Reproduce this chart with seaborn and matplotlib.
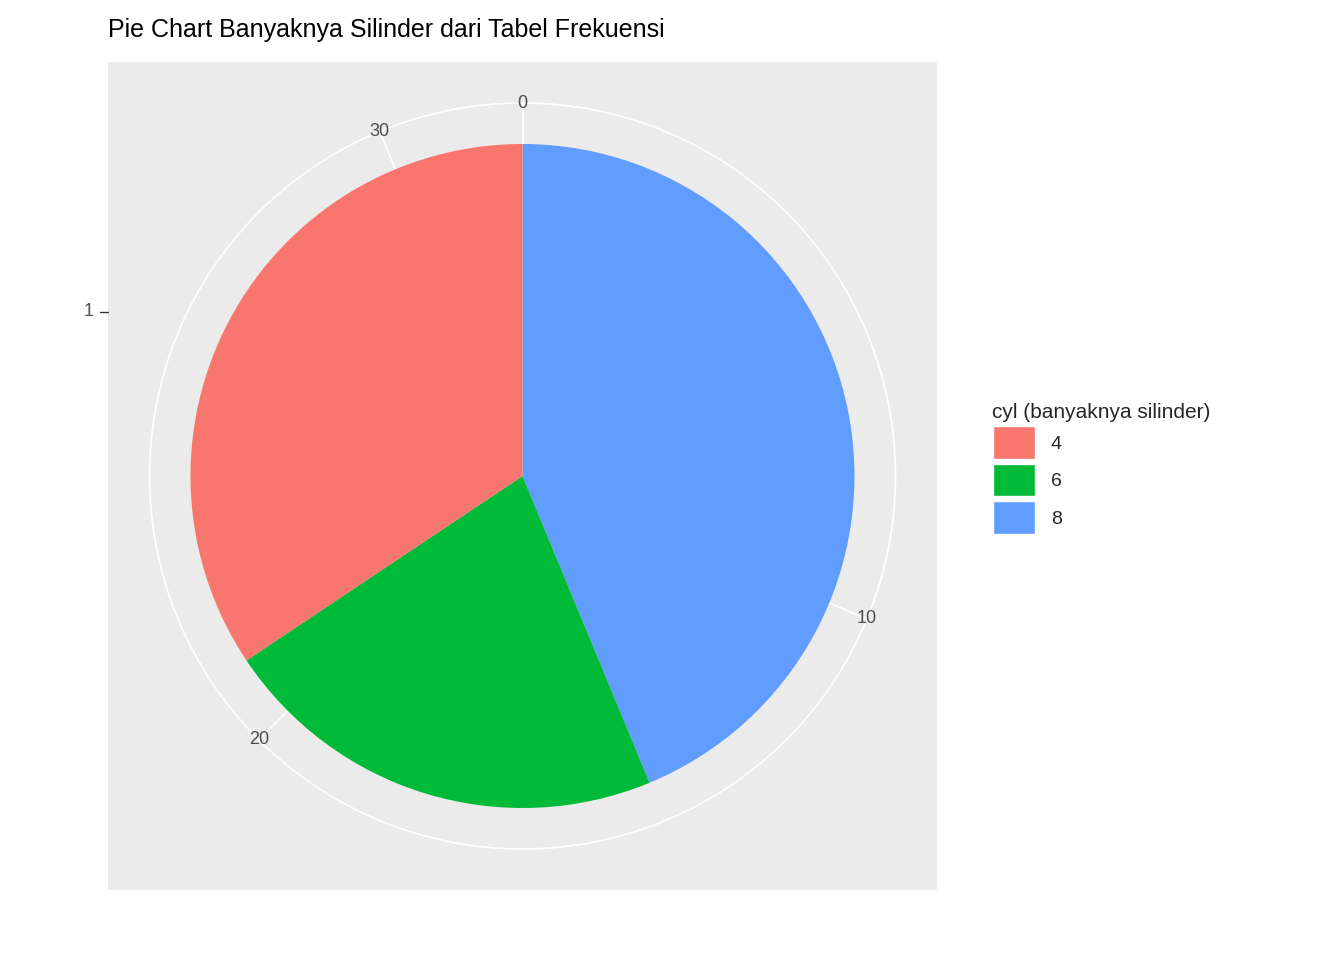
import numpy as np
import matplotlib
matplotlib.use("Agg")
import matplotlib.pyplot as plt
import seaborn as sns
from matplotlib.patches import Patch, Circle

sns.set_theme(style="white")
plt.rcParams['font.family'] = ['Liberation Sans', 'DejaVu Sans']

# data (mtcars cyl frequency table)
cyl_labels = ["4", "6", "8"]
cyl_counts = [11, 7, 14]
cyl_colors = ["#F8766D", "#00BA38", "#619CFF"]
theta_breaks = [0, 10, 20, 30]

W, H = 1344, 960
fig = plt.figure(figsize=(W / 100, H / 100), dpi=100)
ax = fig.add_axes([108 / W, (960 - 890) / H, 829 / W, 828 / H])
ax.set_facecolor("#EBEBEB")
lim = 414 / 332
ax.set_xlim(-lim, lim)
ax.set_ylim(-lim, lim)
ax.set_aspect("equal")
for s in ax.spines.values():
    s.set_visible(False)
ax.set_xticks([])
ax.set_yticks([])

total = sum(cyl_counts)
r_out = 373 / 332

# grid: outer circle + radial lines at theta breaks
ax.add_patch(Circle((0, 0), r_out, fill=False, ec="white", lw=1.2, zorder=1))
for b in theta_breaks:
    ang = np.pi / 2 - 2 * np.pi * b / total
    ax.plot([0, r_out * np.cos(ang)], [0, r_out * np.sin(ang)], color="white", lw=1.2, zorder=1)
    ax.text(r_out * np.cos(ang), r_out * np.sin(ang), str(b), ha="center", va="center",
            fontsize=13, color="#4D4D4D", zorder=3)

# ggplot stacks the last level first, clockwise from top
order = cyl_counts[::-1]
cols = cyl_colors[::-1]
ax.pie(order, colors=cols, startangle=90, counterclock=False, radius=1.0,
       wedgeprops=dict(lw=0), frame=True)
ax.set_xlim(-lim, lim)
ax.set_ylim(-lim, lim)
ax.set_xticks([])
ax.set_yticks([])

# y-axis tick "1"
fig.text(94 / W, 1 - 312 / H, "1", ha="right", va="center", fontsize=13, color="#4D4D4D")
fig.add_artist(plt.Line2D([100 / W, 108 / W], [1 - 312 / H, 1 - 312 / H], color="#333333", lw=1))

fig.text(108 / W, 1 - 30 / H, "Pie Chart Banyaknya Silinder dari Tabel Frekuensi",
         ha="left", va="center", fontsize=18, color="black")

handles = [Patch(facecolor=c, edgecolor="white", label=l) for c, l in zip(cyl_colors, cyl_labels)]
fig.legend(handles=handles, title="cyl (banyaknya silinder)", loc="upper left",
           bbox_to_anchor=(975 / W, 1 - 385 / H), frameon=False, fontsize=14,
           title_fontsize=15, handlelength=2.2, handleheight=2.2, labelspacing=0.25,
           handletextpad=0.8, alignment="left")

fig.savefig("out.png", dpi=100)
